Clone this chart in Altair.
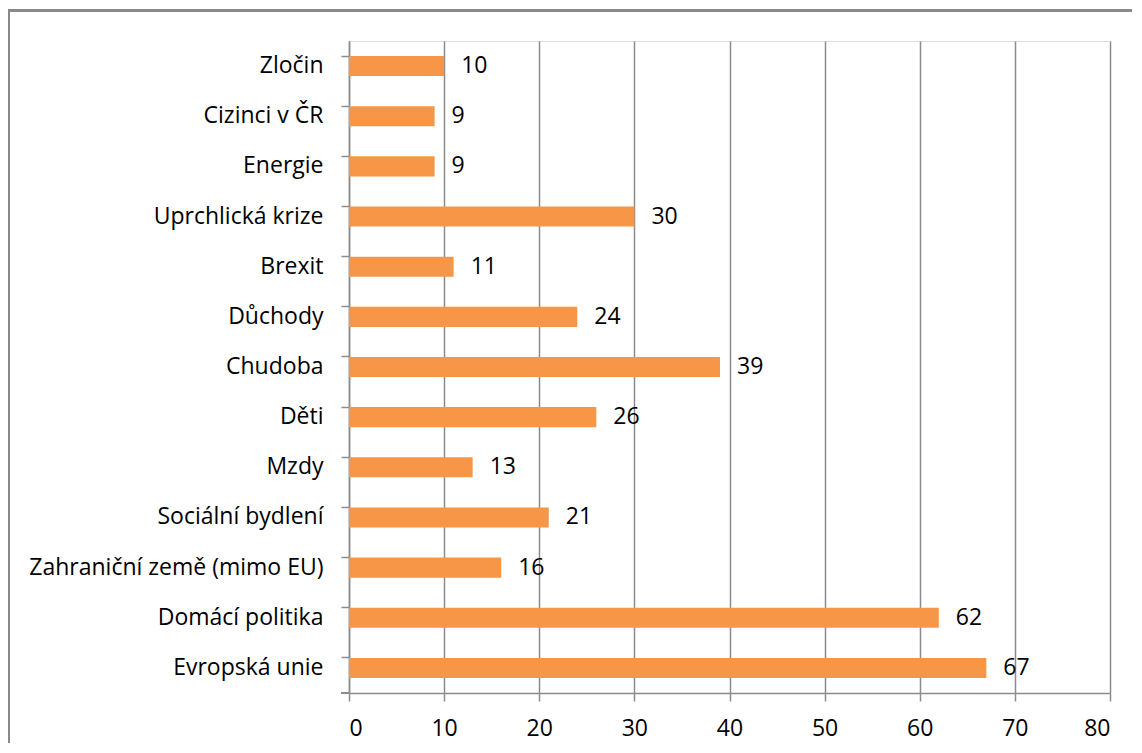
import altair as alt
import pandas as pd

categories = ["Zločin", "Cizinci v ČR", "Energie", "Uprchlická krize", "Brexit",
              "Důchody", "Chudoba", "Děti", "Mzdy", "Sociální bydlení",
              "Zahraniční země (mimo EU)", "Domácí politika", "Evropská unie"]
values = [10, 9, 9, 30, 11, 24, 39, 26, 13, 21, 16, 62, 67]
x_ticks = [0, 10, 20, 30, 40, 50, 60, 70, 80]

df = pd.DataFrame({"cat": categories, "val": values})

FONT = "Open Sans"
FS = 23
GRID = "#8c8c8c"

x_enc = alt.X("val:Q", scale=alt.Scale(domain=[0, 80], nice=False),
              axis=alt.Axis(values=x_ticks, title=None, grid=True, gridColor=GRID,
                            gridWidth=1.5, domainColor=GRID, domainWidth=1.5,
                            tickColor=GRID, tickWidth=1.5, tickSize=8,
                            labelPadding=16, labelFontSize=FS, labelFont=FONT,
                            labelColor="black"))
y_enc = alt.Y("cat:N", sort=categories,
              scale=alt.Scale(paddingInner=0.6, paddingOuter=0.3),
              axis=alt.Axis(title=None, bandPosition=0, domainColor=GRID, domainWidth=1.5,
                            tickColor=GRID, tickWidth=1.5, tickSize=8, labelLimit=500,
                            labelPadding=18, labelFontSize=FS, labelFont=FONT,
                            labelColor="black"))

bars = alt.Chart(df).mark_bar(color="#F79646").encode(x=x_enc, y=y_enc)
labels = alt.Chart(df).mark_text(align="left", baseline="middle", dx=17,
                                 fontSize=FS, font=FONT, color="black").encode(
    x="val:Q", y=alt.Y("cat:N", sort=categories), text="val:Q")

bottom_tick = alt.Chart(df).mark_rule(color=GRID, strokeWidth=1.5).encode(
    x=alt.value(-8), x2=alt.value(0), y=alt.value(652))

border = alt.Chart(df).mark_rect(fill=None, stroke="#888888", strokeWidth=1.5, clip=False).encode(
    x=alt.value(-340.5), x2=alt.value(820), y=alt.value(-30.5), y2=alt.value(740))

chart = alt.layer(bars, labels, bottom_tick, border).properties(
    width=761, height=652,
    autosize=alt.AutoSizeParams(type="none"),
    padding={"left": 341, "top": 33, "right": 22, "bottom": 50},
).configure_view(stroke=None).configure(background="white")

chart.save("out.html", embed_options={"renderer": "svg", "actions": False})
